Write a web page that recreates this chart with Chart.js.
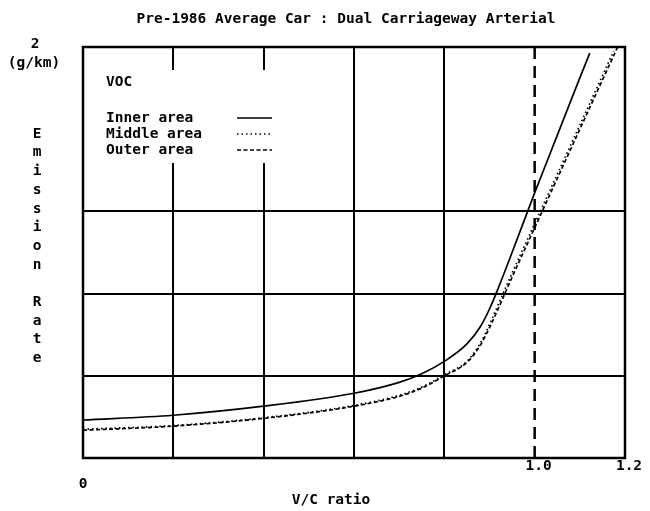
<!DOCTYPE html>
<html>
<head>
<meta charset="utf-8">
<script src="https://cdn.jsdelivr.net/npm/chart.js@4/dist/chart.umd.min.js"></script>
<style>
html,body{margin:0;padding:0;background:#fff;}
#wrap{position:relative;width:650px;height:511px;}
</style>
</head>
<body>
<div id="wrap"><canvas id="c"></canvas></div>
<script>
// ---- data ----
const innerX  = [0, 0.2, 0.4, 0.6, 0.7, 0.75, 0.8, 0.85, 0.88, 0.9, 0.92, 0.95, 1.0, 1.05, 1.1, 1.122];
const innerY  = [0.185, 0.208, 0.252, 0.315, 0.368, 0.41, 0.47, 0.555, 0.64, 0.725, 0.83, 1.0, 1.29, 1.57, 1.85, 1.97];
const middleX = [0, 0.2, 0.4, 0.6, 0.7, 0.75, 0.8, 0.85, 0.88, 0.9, 0.92, 0.95, 1.0, 1.05, 1.1, 1.175];
const middleY = [0.14, 0.158, 0.196, 0.256, 0.305, 0.345, 0.405, 0.47, 0.56, 0.65, 0.75, 0.90, 1.14, 1.38, 1.62, 1.98];
const outerX  = [0, 0.2, 0.4, 0.6, 0.7, 0.75, 0.8, 0.85, 0.88, 0.9, 0.92, 0.95, 1.0, 1.05, 1.1, 1.19];
const outerY  = [0.135, 0.155, 0.193, 0.252, 0.30, 0.34, 0.40, 0.465, 0.55, 0.635, 0.73, 0.88, 1.12, 1.36, 1.60, 2.03];
const seriesNames = ['Inner area', 'Middle area', 'Outer area'];
const xTickLabels = [{v: 0, t: '0'}, {v: 1.0, t: '1.0'}, {v: 1.2, t: '1.2'}];
const xGridValues = [0.2, 0.4, 0.6, 0.8];
const yGridValues = [0.4, 0.8, 1.2];
const capacityLine = 1.0;
const yMaxLabel = '2';
const yUnit = '(g/km)';
const yTitle = 'Emission Rate';
const xTitle = 'V/C ratio';
const chartTitle = 'Pre-1986 Average Car : Dual Carriageway Arterial';
const pollutant = 'VOC';

function pts(xs, ys){ return xs.map((x,i)=>({x:x, y:ys[i]})); }

const FONT = "bold 14.5px 'DejaVu Sans Mono', 'Liberation Mono', monospace";
const dashes = [null, [1.5, 3], [4, 2.5]];

const decor = {
  id: 'decor',
  beforeDatasetsDraw(chart){
    const ctx = chart.ctx;
    // white legend panel covering grid lines
    ctx.save();
    ctx.fillStyle = '#fff';
    ctx.fillRect(95, 70, 200, 93);
    ctx.restore();
  },
  afterDraw(chart){
    const ctx = chart.ctx, a = chart.chartArea;
    const xs = chart.scales.x;
    ctx.save();
    // capacity dashed line
    const cx = xs.getPixelForValue(capacityLine);
    ctx.strokeStyle = '#000';
    ctx.lineWidth = 2.5;
    ctx.setLineDash([12, 7]);
    ctx.beginPath(); ctx.moveTo(cx, a.top); ctx.lineTo(cx, a.bottom); ctx.stroke();
    ctx.setLineDash([]);
    // frame
    ctx.lineWidth = 2.5;
    ctx.strokeRect(a.left, a.top, a.right - a.left, a.bottom - a.top);

    ctx.fillStyle = '#000';
    ctx.font = FONT;
    ctx.textBaseline = 'middle';
    // title
    ctx.textAlign = 'center';
    ctx.fillText(chartTitle, 346, 19);
    // y label top
    ctx.fillText(yMaxLabel, 35, 44);
    ctx.fillText(yUnit, 34, 63);
    // vertical letters
    let yy = 134;
    for (const ch of yTitle){
      if (ch !== ' ') ctx.fillText(ch, 37, yy);
      yy += 18.7;
    }
    // x tick labels
    for (const tk of xTickLabels){
      const px = xs.getPixelForValue(tk.v);
      const py = tk.v === 0 ? 484 : 466;
      ctx.fillText(tk.t, px + (tk.v === 0 ? 0 : 4), py);
    }
    ctx.fillText(xTitle, 331, 500);
    // legend
    ctx.textAlign = 'left';
    ctx.fillText(pollutant, 106, 82);
    const ly = [118, 134, 150];
    seriesNames.forEach((n, i) => {
      ctx.fillText(n, 106, ly[i]);
      ctx.lineWidth = 1.5;
      ctx.setLineDash(dashes[i] || []);
      ctx.beginPath(); ctx.moveTo(237, ly[i]); ctx.lineTo(272, ly[i]); ctx.stroke();
    });
    ctx.setLineDash([]);
    ctx.restore();
  }
};

new Chart(document.getElementById('c'), {
  type: 'line',
  data: {
    datasets: [
      {label: seriesNames[0], data: pts(innerX, innerY), borderColor: '#000', borderWidth: 1.7, pointRadius: 0, cubicInterpolationMode: 'monotone'},
      {label: seriesNames[1], data: pts(middleX, middleY), borderColor: '#000', borderWidth: 1.7, borderDash: dashes[1], pointRadius: 0, cubicInterpolationMode: 'monotone'},
      {label: seriesNames[2], data: pts(outerX, outerY), borderColor: '#000', borderWidth: 1.7, borderDash: dashes[2], pointRadius: 0, cubicInterpolationMode: 'monotone'}
    ]
  },
  options: {
    responsive: true,
    maintainAspectRatio: false,
    animation: false,
    layout: {padding: {left: 83, right: 25, top: 47, bottom: 53}},
    plugins: {legend: {display: false}, tooltip: {enabled: false}, title: {display: false}},
    scales: {
      x: {
        type: 'linear', min: 0, max: 1.2,
        ticks: {display: false, stepSize: 0.2},
        border: {display: false},
        grid: {
          drawTicks: false,
          lineWidth: 2,
          color: (c) => xGridValues.some(v => Math.abs(v - c.tick.value) < 1e-6) ? '#000' : 'rgba(0,0,0,0)'
        }
      },
      y: {
        type: 'linear', min: 0, max: 2,
        ticks: {display: false, stepSize: 0.4},
        border: {display: false},
        grid: {
          drawTicks: false,
          lineWidth: 2,
          color: (c) => yGridValues.some(v => Math.abs(v - c.tick.value) < 1e-6) ? '#000' : 'rgba(0,0,0,0)'
        }
      }
    }
  },
  plugins: [decor]
});
</script>
</body>
</html>
